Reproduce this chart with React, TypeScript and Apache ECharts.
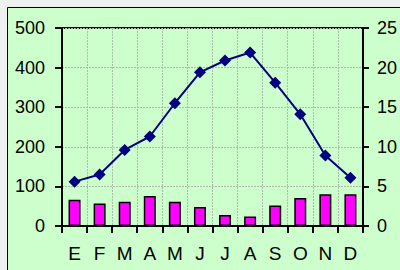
import React, { useEffect, useRef } from "react";
import * as echarts from "echarts";

const months = ["E", "F", "M", "A", "M", "J", "J", "A", "S", "O", "N", "D"];
const precipitation = [66, 57, 61, 76, 61, 48, 28, 24, 52, 71, 80, 80];
const temperature = [5.6, 6.5, 9.6, 11.3, 15.5, 19.4, 20.9, 21.9, 18.1, 14.1, 8.9, 6.1];

const FONT = "'Liberation Sans', Arial, sans-serif";

export default function App() {
  const ref = useRef<HTMLDivElement>(null);
  useEffect(() => {
    if (!ref.current) return;
    const chart = echarts.init(ref.current, undefined, { renderer: "svg" });
    const gridColor = "#a9bfa9";
    chart.setOption({
      animation: false,
      backgroundColor: "transparent",
      graphic: [
        {
          type: "rect",
          z: -10,
          silent: true,
          shape: { x: 7.5, y: 7.5, width: 400, height: 270 },
          style: { fill: "#ccffcc", stroke: "#000", lineWidth: 1 },
        },
      ],
      grid: {
        left: 62,
        top: 28,
        right: 34,
        bottom: 44,
        show: true,
        backgroundColor: "#ccffcc",
        borderColor: "#000",
        borderWidth: 2,
      },
      xAxis: {
        type: "category",
        data: months,
        boundaryGap: true,
        axisLine: { show: true, lineStyle: { color: "#000", width: 2 } },
        axisTick: { show: true, length: 7, lineStyle: { color: "#000", width: 2 } },
        axisLabel: { color: "#000", fontSize: 19, fontFamily: FONT, margin: 18 },
        splitLine: { show: true, lineStyle: { color: gridColor, type: [2, 1], width: 1 } },
      },
      yAxis: [
        {
          type: "value",
          min: 0,
          max: 500,
          interval: 100,
          position: "left",
          axisLine: { show: true, lineStyle: { color: "#000", width: 2 } },
          axisTick: { show: true, length: 7, lineStyle: { color: "#000", width: 2 } },
          axisLabel: { color: "#000", fontSize: 18, fontFamily: FONT, margin: 17 },
          splitLine: { show: true, lineStyle: { color: gridColor, type: [2, 1], width: 1 } },
        },
        {
          type: "value",
          min: 0,
          max: 25,
          interval: 5,
          position: "right",
          axisLine: { show: true, lineStyle: { color: "#000", width: 2 } },
          axisTick: { show: true, length: 6, lineStyle: { color: "#000", width: 2 } },
          axisLabel: { color: "#000", fontSize: 18, fontFamily: FONT, margin: 14 },
          splitLine: { show: false },
        },
      ],
      series: [
        {
          type: "bar",
          yAxisIndex: 0,
          data: precipitation,
          barWidth: 12,
          itemStyle: { color: "#ff00ff", borderColor: "#000", borderWidth: 1.5 },
        },
        {
          type: "line",
          yAxisIndex: 1,
          data: temperature,
          symbol: "diamond",
          symbolSize: 12,
          lineStyle: { color: "#000080", width: 2 },
          itemStyle: { color: "#000080" },
        },
      ],
    });
    return () => chart.dispose();
  }, []);
  return (
    <div style={{ position: "fixed", left: 0, top: 0, width: 400, height: 270, background: "#f0f0f0", overflow: "hidden" }}>
      <div ref={ref} style={{ position: "absolute", left: 0, top: 0, width: 400, height: 270 }} />
    </div>
  );
}
